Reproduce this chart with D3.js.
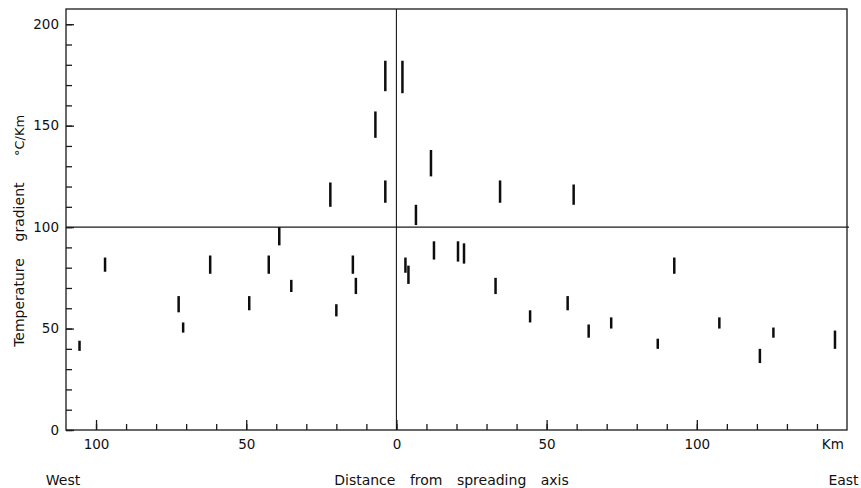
<!DOCTYPE html>
<html>
<head>
<meta charset="utf-8">
<script src="https://cdn.jsdelivr.net/npm/d3@7"></script>
<style>
  html, body { margin: 0; padding: 0; background: #fff; }
  svg { display: block; font-family: "DejaVu Sans", sans-serif; }
</style>
</head>
<body>
<svg id="chart" width="861" height="488"></svg>
<script>
// Data: distance from spreading axis (km, West negative) and gradient range (°C/Km)
const distances = [-105.5, -97, -72.5, -71, -62, -49, -42.5, -39, -35, -22, -20, -14.5, -13.5, -7, -3.7, -3.7,
                   2, 3, 4, 6.5, 11.5, 12.5, 20.5, 22.5, 33, 34.5, 44.5, 57, 59, 64, 71.5, 87, 92.5, 107.5, 121, 125.5, 146];
const gradMin = [39, 78, 58, 48, 77, 59, 77, 91, 68, 110, 56, 77, 67, 144, 112, 167,
                 166, 77.5, 72, 101, 125, 84, 83, 82, 67, 112, 53, 59, 111, 45.5, 50, 40, 77, 50, 33, 45.5, 40];
const gradMax = [44, 85, 66, 53, 86, 66, 86, 100, 74, 122, 62, 86, 75, 157, 123, 182,
                 182, 85, 81, 111, 138, 93, 93, 92, 75, 123, 59, 66, 121, 52, 55.5, 45, 85, 55.5, 40, 50.5, 49];

const xMinorTicks = d3.range(-100, 150, 10);
const xMajorTicks = [-100, -50, 0, 50, 100];
const xMajorLabels = ["100", "50", "0", "50", "100"];
const yMinorTicks = d3.range(0, 210, 10);
const yMajorTicks = [0, 50, 100, 150, 200];
const yMajorLabels = ["0", "50", "100", "150", "200"];

const svg = d3.select("#chart");
const pLeft = 66, pRight = 847, pTop = 9, pBottom = 430;

const x = d3.scaleLinear().domain([-110, 150]).range([pLeft, pRight]);
const y = d3.scaleLinear().domain([0, 207.5]).range([pBottom, pTop]);

const ink = "#1a1a1a";

// frame
svg.append("rect")
  .attr("x", pLeft).attr("y", pTop)
  .attr("width", pRight - pLeft).attr("height", pBottom - pTop)
  .attr("fill", "none").attr("stroke", ink).attr("stroke-width", 1.3);

// reference lines
svg.append("line")
  .attr("x1", x(0)).attr("x2", x(0)).attr("y1", pTop).attr("y2", pBottom)
  .attr("stroke", ink).attr("stroke-width", 1.1);
svg.append("line")
  .attr("x1", pLeft).attr("x2", pRight + 2).attr("y1", y(100)).attr("y2", y(100))
  .attr("stroke", ink).attr("stroke-width", 1.3);

// x axis
const gxMinor = svg.append("g").attr("transform", `translate(0,${pBottom})`)
  .call(d3.axisBottom(x).tickValues(xMinorTicks).tickSize(-6).tickFormat(""));
const gxMajor = svg.append("g").attr("transform", `translate(0,${pBottom})`)
  .call(d3.axisBottom(x).tickValues(xMajorTicks).tickSize(-10).tickPadding(9)
        .tickFormat((d, i) => xMajorLabels[i]));

// y axis
const gyMinor = svg.append("g").attr("transform", `translate(${pLeft},0)`)
  .call(d3.axisLeft(y).tickValues(yMinorTicks).tickSize(-6).tickFormat(""));
const gyMajor = svg.append("g").attr("transform", `translate(${pLeft},0)`)
  .call(d3.axisLeft(y).tickValues(yMajorTicks).tickSize(-8).tickPadding(7)
        .tickFormat((d, i) => yMajorLabels[i]));

[gxMinor, gxMajor, gyMinor, gyMajor].forEach(g => {
  g.select(".domain").remove();
  g.selectAll(".tick line").attr("stroke", ink).attr("stroke-width", 1.3);
  g.selectAll(".tick text").attr("fill", "#111")
    .style("font-family", '"DejaVu Sans", sans-serif').style("font-size", "13.5px");
});

// bars
svg.append("g").selectAll("line")
  .data(distances.map((d, i) => ({d, lo: gradMin[i], hi: gradMax[i]})))
  .join("line")
  .attr("x1", p => x(p.d)).attr("x2", p => x(p.d))
  .attr("y1", p => y(p.lo)).attr("y2", p => y(p.hi))
  .attr("stroke", "#0d0d0d").attr("stroke-width", 2.5);

// labels
const txt = (s, tx, ty, size = 14) => svg.append("text")
  .attr("x", tx).attr("y", ty)
  .attr("text-anchor", "middle")
  .style("font-size", size + "px")
  .attr("fill", "#111")
  .text(s);

txt("Km", x(145.3), 449, 13.5);
txt("West", 63, 485);
txt("East", 843.5, 485);
txt("Distance from spreading axis", 451.5, 485).style("word-spacing", "10px");

// rotated y title
const ytitle = (s, cy, size) => svg.append("text")
  .attr("transform", `translate(24,${cy}) rotate(-90)`)
  .attr("text-anchor", "middle")
  .style("font-size", size + "px")
  .attr("fill", "#111")
  .text(s);
ytitle("Temperature", 302.5, 14);
ytitle("gradient", 212, 14);
ytitle("°C/Km", 135.5, 13);
</script>
</body>
</html>
